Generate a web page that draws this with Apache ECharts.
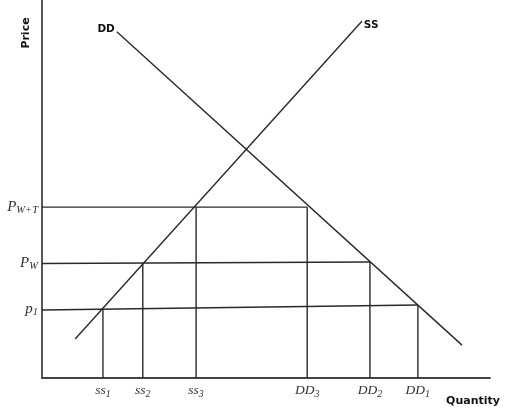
<!DOCTYPE html>
<html><head><meta charset="utf-8">
<script src="https://cdn.jsdelivr.net/npm/echarts@6/dist/echarts.min.js"></script>
<style>html,body{margin:0;padding:0;background:#fff}#c{width:505px;height:413px}</style>
</head><body><div id="c"></div>
<script>
// Demand curve DD endpoints [quantity, price]
const demandCurve = [[16.7, 91.6], [93.75, 8.7]];
// Supply curve SS endpoints
const supplyCurve = [[7.4, 10.3], [71.4, 94.4]];
// Price levels (left end at axis, right end at demand)
const priceNames = ['PWT', 'PW', 'p1'];
const priceLeft = [45.2, 30.3, 18.0];
const priceRight = [45.2, 30.7, 19.3];
// Quantities supplied and demanded at each price level
const supplyQty = [34.4, 22.5, 13.6];
const demandQty = [59.2, 73.2, 83.9];
const supplyTop = [45.2, 30.4, 18.2];
// Tick labels
const qtyTicks = [13.6, 22.5, 34.4, 59.2, 73.2, 83.9];
const qtyLabels = [['ss', '1'], ['ss', '2'], ['ss', '3'], ['DD', '3'], ['DD', '2'], ['DD', '1']];
const priceTicks = [45.2, 30.5, 18.3];
const priceLabels = [['P', 'W+T'], ['P', 'W'], ['p', '1']];

const lineColor = '#2a2a2a';
const lw = 1.4;
const series = [];
const curveLabel = {show: true, position: 'left', distance: 2, fontFamily: 'DejaVu Sans', fontWeight: 'bold', fontSize: 10.5, color: '#111'};
series.push({
  type: 'line', data: demandCurve.map((p, i) => i === 0 ? {value: p, label: Object.assign({}, curveLabel, {formatter: 'DD', position: 'left', offset: [0, -2]})} : p),
  symbol: 'circle', symbolSize: 0, showSymbol: true, lineStyle: {color: lineColor, width: lw}, silent: true
});
series.push({
  type: 'line', data: supplyCurve.map((p, i) => i === 1 ? {value: p, label: Object.assign({}, curveLabel, {formatter: 'SS', position: 'right', offset: [0, 4]})} : p),
  symbol: 'circle', symbolSize: 0, showSymbol: true, lineStyle: {color: lineColor, width: lw}, silent: true
});
for (let i = 0; i < priceNames.length; i++) {
  series.push({type: 'line', data: [[0, priceLeft[i]], [demandQty[i], priceRight[i]]], symbol: 'none', lineStyle: {color: lineColor, width: lw}, silent: true});
  series.push({type: 'line', data: [[demandQty[i], 0], [demandQty[i], priceRight[i]]], symbol: 'none', lineStyle: {color: lineColor, width: lw}, silent: true});
  series.push({type: 'line', data: [[supplyQty[i], 0], [supplyQty[i], supplyTop[i]]], symbol: 'none', lineStyle: {color: lineColor, width: lw}, silent: true});
}

function findIdx(arr, v) {
  for (let i = 0; i < arr.length; i++) if (Math.abs(arr[i] - v) < 0.01) return i;
  return -1;
}

const serif = 'Liberation Serif';
const chart = echarts.init(document.getElementById('c'), null, {renderer: 'canvas'});
chart.setOption({
  animation: false,
  grid: {left: 42, right: 15, top: 0, bottom: 35, containLabel: false},
  xAxis: {
    type: 'value', min: 0, max: 100,
    splitLine: {show: false}, axisTick: {show: false},
    axisLine: {show: true, onZero: false, lineStyle: {color: '#444', width: 1.8}},
    axisLabel: {
      show: true, customValues: qtyTicks, margin: 4, hideOverlap: false,
      formatter: v => { const i = findIdx(qtyTicks, v); return i < 0 ? '' : '{b|' + qtyLabels[i][0] + '}{s|' + qtyLabels[i][1] + '}'; },
      rich: {
        b: {fontFamily: serif, fontStyle: 'italic', fontSize: 13.5, color: '#333'},
        s: {fontFamily: serif, fontStyle: 'italic', fontSize: 10, color: '#333', padding: [7, 0, 0, 0]}
      }
    }
  },
  yAxis: {
    type: 'value', min: 0, max: 100,
    splitLine: {show: false}, axisTick: {show: false},
    axisLine: {show: true, onZero: false, lineStyle: {color: '#444', width: 1.8}},
    axisLabel: {
      show: true, customValues: priceTicks, margin: 4, hideOverlap: false,
      formatter: v => { const i = findIdx(priceTicks, v); return i < 0 ? '' : '{b|' + priceLabels[i][0] + '}{s|' + priceLabels[i][1] + '}'; },
      rich: {
        b: {fontFamily: serif, fontStyle: 'italic', fontSize: 15, color: '#333'},
        s: {fontFamily: serif, fontStyle: 'italic', fontSize: 10.5, color: '#333', padding: [7, 0, 0, 0]}
      }
    }
  },
  graphic: [
    {type: 'text', x: 26, y: 33, rotation: Math.PI / 2, style: {text: 'Price', font: 'bold 11px "DejaVu Sans"', fill: '#111', align: 'center', verticalAlign: 'middle'}},
    {type: 'text', x: 500, y: 401, style: {text: 'Quantity', font: 'bold 11px "DejaVu Sans"', fill: '#111', align: 'right', verticalAlign: 'middle'}}
  ],
  series: series
});
</script></body></html>
